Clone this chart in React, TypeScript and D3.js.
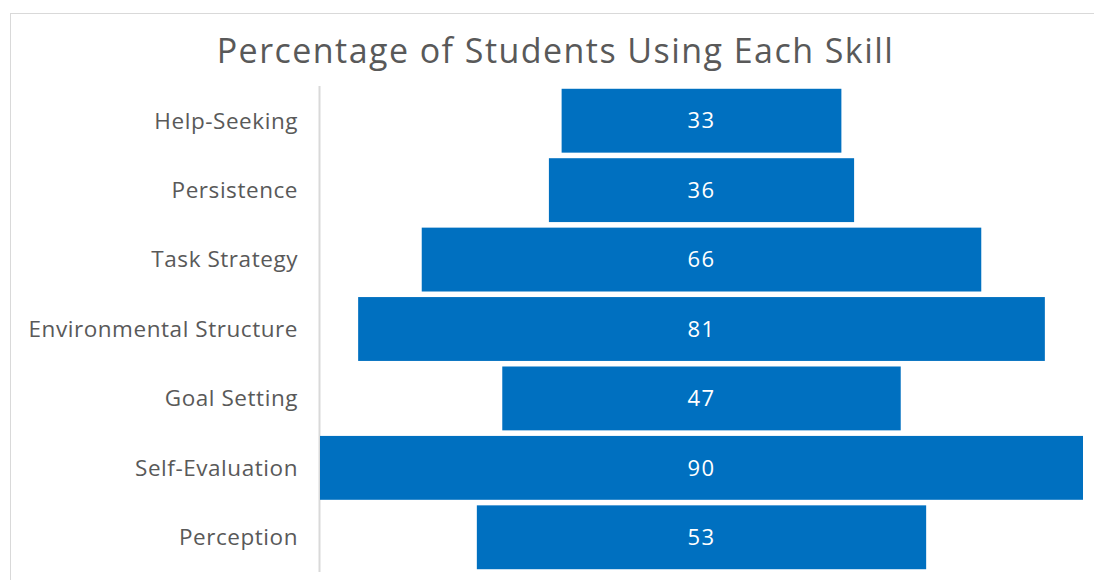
import * as d3 from "d3";
import * as React from "react";

const skills = [
  "Help-Seeking",
  "Persistence",
  "Task Strategy",
  "Environmental Structure",
  "Goal Setting",
  "Self-Evaluation",
  "Perception",
];
const percents = [33, 36, 66, 81, 47, 90, 53];
const chartTitle = "Percentage of Students Using Each Skill";

const W = 1094;
const H = 580;
const FONT = "'Open Sans', 'Noto Sans', sans-serif";

export default function App() {
  const margin = { top: 86, right: 11, bottom: 8, left: 320 };

  const maxVal = d3.max(percents) as number;
  // bars are centred, so the scale runs from -max/2 to +max/2
  const x = d3
    .scaleLinear()
    .domain([-maxVal / 2, maxVal / 2])
    .range([margin.left, W - margin.right]);
  const y = d3
    .scaleBand()
    .domain(skills)
    .range([margin.top, H - margin.bottom])
    .paddingInner(0.08)
    .paddingOuter(0.04);

  return (
    <svg
      width={W}
      height={H}
      style={{ position: "absolute", left: 0, top: 0, background: "#fff" }}
    >
      <rect
        x={10.5}
        y={13.5}
        width={W}
        height={H}
        fill="#fff"
        stroke="#d9d9d9"
        strokeWidth={1}
      />
      <text
        x={555.5}
        y={62.5}
        textAnchor="middle"
        fontFamily={FONT}
        fontSize={34}
        letterSpacing={1.45}
        fill="#595959"
      >
        {chartTitle}
      </text>
      <line
        x1={margin.left - 0.5}
        x2={margin.left - 0.5}
        y1={margin.top}
        y2={H - margin.bottom}
        stroke="#d9d9d9"
        strokeWidth={2}
      />
      {skills.map((s, i) => {
        const v = percents[i];
        const yy = y(s) as number;
        const bw = y.bandwidth();
        return (
          <g key={s}>
            <rect
              x={x(-v / 2)}
              y={yy}
              width={x(v / 2) - x(-v / 2)}
              height={bw}
              fill="#0070c0"
            />
            <text
              x={margin.left - 22}
              y={yy + bw / 2}
              dy="0.35em"
              textAnchor="end"
              fontFamily={FONT}
              fontSize={22.5}
              letterSpacing={0.55}
              fill="#595959"
            >
              {s}
            </text>
            <text
              x={x(0)}
              y={yy + bw / 2}
              dy="0.35em"
              textAnchor="middle"
              fontFamily={FONT}
              fontSize={22}
              letterSpacing={1.5}
              fill="#ffffff"
            >
              {v}
            </text>
          </g>
        );
      })}
    </svg>
  );
}
